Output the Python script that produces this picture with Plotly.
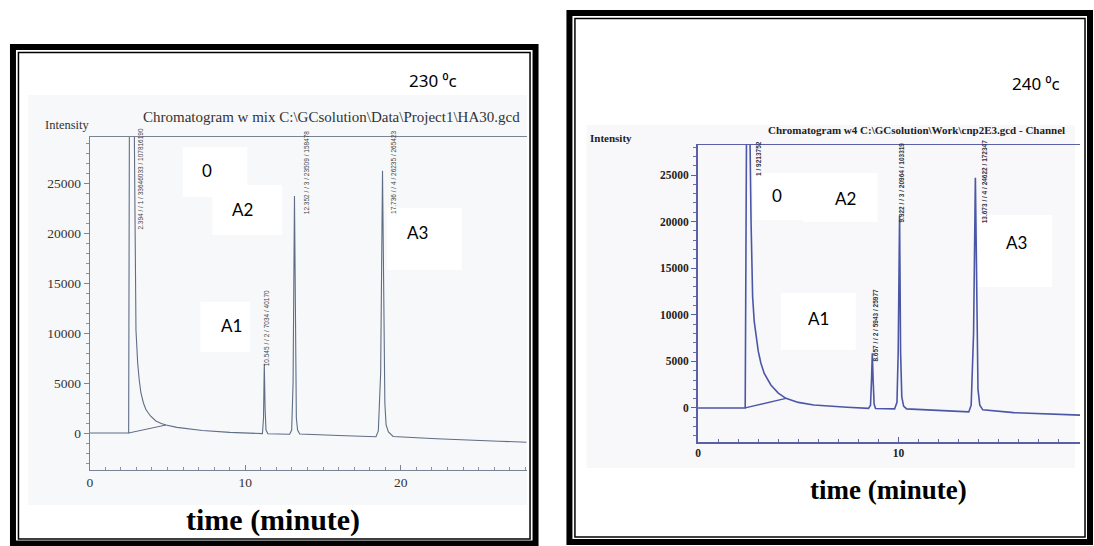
import plotly.graph_objects as go

W, H = 1094, 546

# ---------------- data ----------------
# Left panel (230 C): time (min) / intensity
left_time = [0.0, 2.50, 2.55, 2.85, 2.97, 3.02, 3.08, 3.18, 3.29, 3.45, 3.61, 3.90, 4.25,
             4.60, 4.90, 5.60, 6.40, 7.24, 9.00,
             10.88, 11.10, 11.17, 11.22, 11.27, 11.33, 11.45,
             12.85, 12.98, 13.07, 13.16, 13.22, 13.28, 13.36, 13.50, 16.0,
             18.40, 18.55, 18.70, 18.82, 18.90, 18.97, 19.05, 19.20, 19.50, 22.3, 26.3, 28.1]
left_intensity = [0, 0, 33000, 33000, 10300, 8500, 7000, 5300, 4000, 3000, 2350, 1700, 1200,
                  950, 800, 560, 380, 250, 60,
                  -50, -60, 1500, 6920, 2500, 300, -80,
                  -130, 300, 5000, 23700, 8000, 1500, 300, -100, -250,
                  -380, 200, 6000, 26230, 12000, 3000, 800, 100, -350, -580, -820, -930]
left_base_time = [2.50, 4.90]
left_base_int = [0, 800]

# Right panel (240 C)
right_time = [0.0, 2.35, 2.42, 2.57, 2.64, 2.68, 2.72, 2.80, 2.89, 3.00, 3.13, 3.30, 3.63,
              4.00, 4.38, 5.00, 5.77, 6.50, 7.43,
              8.50, 8.60, 8.65, 8.69, 8.73, 8.78, 8.85,
              9.80, 9.92, 9.98, 10.05, 10.10, 10.16, 10.25, 10.40, 10.76, 13.42,
              13.50, 13.62, 13.74, 13.83, 13.90, 13.96, 14.05, 14.20, 15.74, 19.05]
right_intensity = [0, 0, 32000, 32000, 20170, 15000, 11900, 9300, 7620, 6100, 4830, 3700, 2470,
                   1600, 1040, 600, 320, 180, 75,
                   -40, 300, 3000, 5870, 3000, 400, -60,
                   -100, 600, 6000, 20600, 6000, 1200, 200, -100, -140, -400,
                   -420, 300, 8000, 24700, 9000, 2000, 300, -200, -500, -770]
right_base_time = [2.35, 4.38]
right_base_int = [0, 1040]

y_tickvals = [0, 5000, 10000, 15000, 20000, 25000]
y_ticktext = ["0", "5000", "10000", "15000", "20000", "25000"]
left_x_tickvals = [0, 10, 20]
right_x_tickvals = [0, 10]

left_peak_texts = ["2.394 / / 1 / 33646033 / 107816190", "10.545 / / 2 / 7034 / 40170",
                   "12.352 / / 3 / 23509 / 158478", "17.736 / / 4 / 26235 / 265423"]
right_peak_texts = ["1 / 9213752", "8.657 / / 2 / 5943 / 25977",
                    "9.922 / / 3 / 20964 / 103319", "13.673 / / 4 / 24622 / 172347"]
compound_labels = ["0", "A1", "A2", "A3"]
panel_temps = ["230 \u2070c", "240 \u2070c"]

# ---------------- helpers ----------------
def px(x):
    return x / W

def py(y):
    return 1 - y / H

fig = go.Figure()

LCOL = "#5f6d86"
RCOL = "#4b57a6"

fig.add_trace(go.Scatter(x=left_time, y=left_intensity, mode="lines",
                         line=dict(color=LCOL, width=1.1), xaxis="x", yaxis="y",
                         showlegend=False, hoverinfo="skip"))
fig.add_trace(go.Scatter(x=left_base_time, y=left_base_int, mode="lines",
                         line=dict(color=LCOL, width=1), xaxis="x", yaxis="y",
                         showlegend=False, hoverinfo="skip"))
fig.add_trace(go.Scatter(x=right_time, y=right_intensity, mode="lines",
                         line=dict(color=RCOL, width=1.6), xaxis="x2", yaxis="y2",
                         showlegend=False, hoverinfo="skip"))
fig.add_trace(go.Scatter(x=right_base_time, y=right_base_int, mode="lines",
                         line=dict(color=RCOL, width=1.3), xaxis="x2", yaxis="y2",
                         showlegend=False, hoverinfo="skip"))

serif = "Liberation Serif, Times New Roman, serif"
sans = "Lato, Noto Sans, sans-serif"
narrow = "Liberation Sans Narrow, Liberation Sans, sans-serif"

common_axis = dict(showgrid=False, zeroline=False, showline=True, fixedrange=True)

fig.update_layout(
    width=W, height=H, autosize=False,
    margin=dict(l=0, r=0, t=0, b=0),
    paper_bgcolor="white", plot_bgcolor="rgba(0,0,0,0)",
    xaxis=dict(**common_axis, domain=[px(87), px(525)], range=[0, 28.08], anchor="y",
               linecolor="#7a8294", linewidth=1, mirror=True,
               tickvals=left_x_tickvals, ticks="inside", ticklen=5, tickcolor="#7a8294",
               minor=dict(dtick=1, ticks="inside", ticklen=3, tickcolor="#8a92a4"),
               tickfont=dict(family=serif, size=13.5, color="#333")),
    yaxis=dict(**common_axis, domain=[py(470), py(137)], range=[-3700, 29600], anchor="x",
               linecolor="#7a8294", linewidth=1,
               tickvals=y_tickvals, ticktext=y_ticktext, ticks="outside", ticklen=5,
               tickcolor="#7a8294",
               minor=dict(dtick=1000, ticks="outside", ticklen=3, tickcolor="#8a92a4"),
               tickfont=dict(family=serif, size=13.5, color="#333")),
    xaxis2=dict(**common_axis, domain=[px(697), px(1080)], range=[0, 19.05], anchor="y2",
                linecolor="#5a5fa8", linewidth=1.5, mirror=True,
                tickvals=right_x_tickvals, ticks="inside", ticklen=5, tickcolor="#5a5fa8",
                minor=dict(dtick=1, ticks="inside", ticklen=3, tickcolor="#6a6fb0"),
                tickfont=dict(family=serif, size=11.5, color="#222", weight="bold")),
    yaxis2=dict(**common_axis, domain=[py(442), py(145)], range=[-3650, 28220], anchor="x2",
                linecolor="#5a5fa8", linewidth=2,
                tickvals=y_tickvals, ticktext=y_ticktext, ticks="outside", ticklen=5,
                tickcolor="#5a5fa8",
                minor=dict(dtick=1000, ticks="outside", ticklen=3, tickcolor="#6a6fb0"),
                tickfont=dict(family=serif, size=11.5, color="#222", weight="bold")),
)

shapes = []
def rect(x0, y0, x1, y1, fill=None, line_w=0, line_c="black", layer="below"):
    d = dict(type="rect", xref="paper", yref="paper",
             x0=px(x0), x1=px(x1), y0=py(y1), y1=py(y0), layer=layer)
    d["fillcolor"] = fill if fill else "rgba(0,0,0,0)"
    d["line"] = dict(color=line_c, width=line_w) if line_w else dict(width=0)
    return d

# scanned backgrounds
shapes.append(rect(25, 95, 525, 505, fill="#f7f8fa"))
shapes.append(rect(585, 125, 1075, 468, fill="#f8f8fa"))
# white label boxes (left)
shapes.append(rect(180, 147, 245, 197, fill="white"))
shapes.append(rect(210, 185, 280, 235, fill="white"))
shapes.append(rect(198, 302, 248, 352, fill="white"))
shapes.append(rect(385, 208, 460, 270, fill="white"))
# white label boxes (right)
shapes.append(rect(752, 173, 802, 220, fill="white"))
shapes.append(rect(802, 173, 877, 222, fill="white"))
shapes.append(rect(780, 293, 855, 350, fill="white"))
shapes.append(rect(978, 215, 1052, 287, fill="white"))
# double borders
shapes.append(rect(10, 47, 534, 543.5, line_w=6, layer="above"))
shapes.append(rect(15.5, 52.5, 528.5, 539, line_w=1.5, layer="above"))
shapes.append(rect(568, 13, 1090, 542, line_w=6, layer="above"))
shapes.append(rect(573.5, 18.5, 1085, 537, line_w=1.5, layer="above"))
fig.update_layout(shapes=shapes)

ann = []
def text(x, y, s, size, family, color="black", xanchor="center", yanchor="middle",
         angle=0, bold=False):
    f = dict(family=family, size=size, color=color)
    if bold:
        f["weight"] = "bold"
    ann.append(dict(x=px(x), y=py(y), xref="paper", yref="paper", text=s, showarrow=False,
                    font=f, xanchor=xanchor, yanchor=yanchor, textangle=angle))

# left panel texts
text(405, 80, panel_temps[0], 17, "Noto Sans, Lato, sans-serif", xanchor="left")
text(40, 125, "Intensity", 12.5, serif, color="#333", xanchor="left")
text(138, 117, "Chromatogram w mix C:\\GCsolution\\Data\\Project1\\HA30.gcd", 15, serif,
     color="#333", xanchor="left")
text(271, 520, "time (minute)", 30, serif, bold=True)
for (x, y), s in zip([(205, 170), (229, 325), (240, 210), (416, 232)], compound_labels):
    text(x, y, s, 17, sans)
for (x, y), s in zip([(138, 179), (264, 328), (304, 172), (391, 172)], left_peak_texts):
    text(x, y, s, 6.5, narrow, color="#444", angle=-90)

# right panel texts
text(1010, 83, panel_temps[1], 17, "Noto Sans, Lato, sans-serif", xanchor="left")
text(587, 138, "Intensity", 11, serif, color="#222", xanchor="left", bold=True)
text(765, 130, "Chromatogram w4 C:\\GCsolution\\Work\\cnp2E3.gcd - Channel", 11, serif,
     color="#222", xanchor="left", bold=True)
text(888, 490, "time (minute)", 27, serif, bold=True)
for (x, y), s in zip([(776, 195), (818, 318), (845, 198), (1016, 243)], compound_labels):
    text(x, y, s, 17, sans)
for (x, y), s in zip([(757, 158), (874, 325), (901, 183), (985, 181)], right_peak_texts):
    text(x, y, s, 6.5, narrow, color="#334", angle=-90, bold=True)

fig.update_layout(annotations=ann)

fig.write_html("out.html", config={"displayModeBar": False, "staticPlot": True},
               post_script="document.body.style.margin='0';document.body.style.overflow='hidden';")
